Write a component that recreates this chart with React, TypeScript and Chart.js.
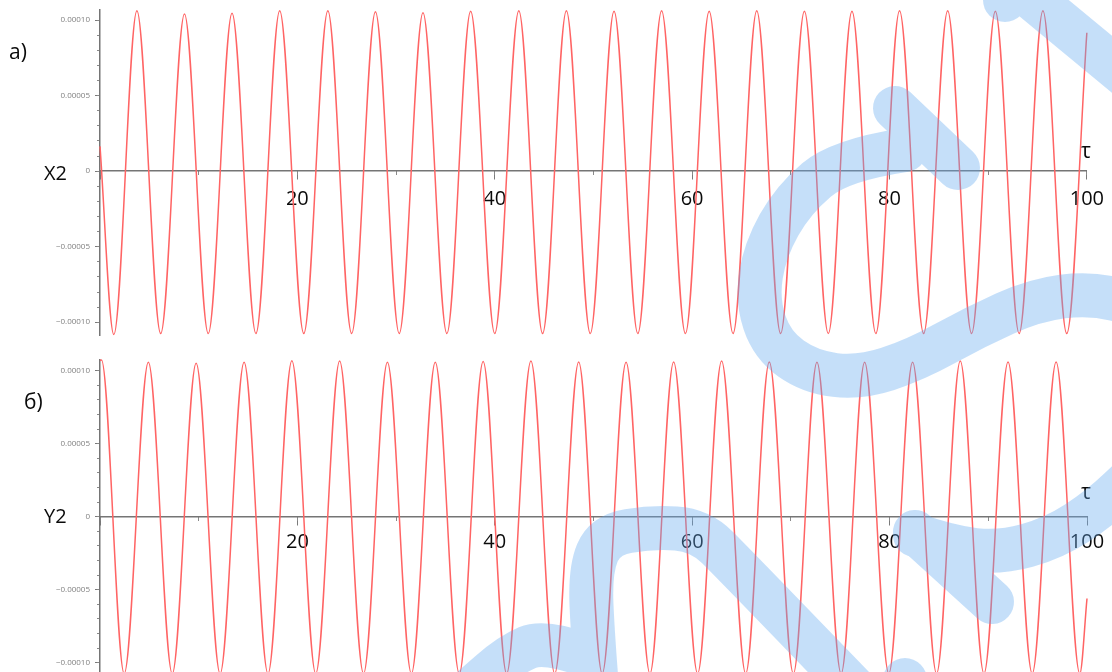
import React, { useEffect, useRef } from "react";
import { Chart, registerables } from "chart.js";

Chart.register(...registerables);

// ---------- Panel a) X2(τ) ----------
const x2Start = [0, 0.0000164];
const x2End = [100, 0.0000916];
const x2TroughTau = [1.4, 6.15, 10.97, 15.8, 20.65, 25.5, 30.32, 35.15, 40.0, 44.85, 49.68, 54.5, 59.32, 64.15, 68.97, 73.8, 78.62, 83.46, 88.32, 93.14, 97.96];
const x2TroughVal = [-1.082, -1.075, -1.075, -1.075, -1.075, -1.075, -1.075, -1.075, -1.075, -1.075, -1.075, -1.075, -1.075, -1.075, -1.075, -1.075, -1.075, -1.075, -1.075, -1.075, -1.075].map((v) => v * 1e-4);
const x2PeakTau = [3.74, 8.56, 13.38, 18.21, 23.09, 27.91, 32.73, 37.56, 42.44, 47.26, 52.09, 56.91, 61.73, 66.55, 71.38, 76.2, 81.02, 85.9, 90.73, 95.55];
const x2PeakVal = [1.062, 1.04, 1.045, 1.062, 1.062, 1.055, 1.048, 1.058, 1.062, 1.062, 1.058, 1.062, 1.058, 1.062, 1.058, 1.058, 1.062, 1.062, 1.058, 1.062].map((v) => v * 1e-4);
const x2Range = [-0.0001086, 0.0001067];

// ---------- Panel б) Y2(τ) ----------
const y2Start = [0, 0.000107];
const y2End = [100, -0.000056];
const y2PeakTau = [0.15, 4.9, 9.74, 14.6, 19.44, 24.28, 29.12, 33.97, 38.82, 43.66, 48.5, 53.3, 58.12, 62.98, 67.81, 72.64, 77.47, 82.33, 87.16, 92.0, 96.87];
const y2PeakVal = [1.073, 1.057, 1.05, 1.057, 1.068, 1.066, 1.057, 1.057, 1.062, 1.066, 1.06, 1.057, 1.06, 1.066, 1.06, 1.057, 1.057, 1.057, 1.066, 1.06, 1.06].map((v) => v * 1e-4);
const y2TroughTau = [2.45, 7.32, 12.17, 17.02, 21.86, 26.7, 31.55, 36.4, 41.2, 46.07, 50.88, 55.72, 60.55, 65.42, 70.25, 75.09, 79.92, 84.76, 89.56, 94.45, 99.27];
const y2TroughVal = [-1.075, -1.075, -1.075, -1.075, -1.075, -1.075, -1.075, -1.075, -1.075, -1.075, -1.075, -1.075, -1.075, -1.075, -1.075, -1.075, -1.075, -1.075, -1.075, -1.075, -1.075].map((v) => v * 1e-4);
const y2Range = [-0.00011, 0.0001075];

// ---------- Axis ticks ----------
const xMajorStep = 20;
const xMinorStep = 10;
const yMajorStep = 0.00005;
const yMinorStep = 0.00001;

function buildPoints(start: number[], end: number[], pt: number[], pv: number[], tt: number[], tv: number[]) {
  const pts: { x: number; y: number }[] = [{ x: start[0], y: start[1] }];
  pt.forEach((t, i) => pts.push({ x: t, y: pv[i] }));
  tt.forEach((t, i) => pts.push({ x: t, y: tv[i] }));
  pts.push({ x: end[0], y: end[1] });
  pts.sort((a, b) => a.x - b.x);
  return pts;
}

const fmtY = (v: number) => {
  const n = Math.round(v * 1e5);
  if (n === 0) return "0";
  const s = "0.000" + String(Math.abs(n)).padStart(2, "0");
  return (n < 0 ? "\u2212" : "") + s;
};

const FONT = '"Open Sans", "DejaVu Sans", sans-serif';
const Y_BOX = 60;

function makeChart(canvas: HTMLCanvasElement, pts: any[], range: number[], pad: any, labelPad: number) {
  return new Chart(canvas, {
    type: "line",
    data: {
      datasets: [
        {
          data: pts,
          borderColor: "#ff6464",
          borderWidth: 1.5,
          pointRadius: 0,
          cubicInterpolationMode: "monotone",
          fill: false,
          clip: false,
          xAxisID: "x",
          yAxisID: "y",
        } as any,
      ],
    },
    options: {
      responsive: false,
      animation: false,
      events: [],
      layout: { padding: pad },
      plugins: { legend: { display: false }, tooltip: { enabled: false } },
      scales: {
        x: {
          type: "linear",
          axis: "x",
          min: 0,
          max: 100,
          position: { y: 0 } as any,
          grid: { display: true, drawOnChartArea: false, drawTicks: true, tickLength: 8, tickColor: "#7a7a7a", lineWidth: 1 },
          border: { display: true, color: "#757575", width: 1.5 },
          ticks: {
            stepSize: xMajorStep,
            autoSkip: false,
            includeBounds: false,
            maxRotation: 0,
            padding: labelPad,
            color: "#0a0a0a",
            font: { family: FONT, size: 20 },
            callback: (v: any) => (Number(v) === 0 ? "" : String(v)),
          },
        } as any,
        x2: {
          type: "linear",
          axis: "x",
          min: 0,
          max: 100,
          position: { y: 0 } as any,
          grid: { display: true, drawOnChartArea: false, drawTicks: true, tickLength: 4, tickColor: "#8a8a8a", lineWidth: 1 },
          border: { display: false },
          ticks: { display: false, stepSize: xMinorStep, autoSkip: false, includeBounds: false },
        } as any,
        y: {
          type: "linear",
          axis: "y",
          position: "left",
          min: range[0],
          max: range[1],
          afterFit: (s: any) => {
            s.width = Y_BOX;
          },
          grid: { display: true, drawOnChartArea: false, drawTicks: true, tickLength: 5, tickColor: "#7a7a7a", lineWidth: 1 },
          border: { display: true, color: "#757575", width: 1.5 },
          ticks: {
            stepSize: yMajorStep,
            autoSkip: false,
            includeBounds: false,
            maxTicksLimit: 1000,
            padding: 5,
            color: "#808080",
            font: { family: FONT, size: 8 },
            callback: (v: any) => fmtY(Number(v)),
          },
        } as any,
        y2: {
          type: "linear",
          axis: "y",
          position: { x: 0 } as any,
          min: range[0],
          max: range[1],
          grid: { display: true, drawOnChartArea: false, drawTicks: true, tickLength: 3, tickColor: "#8a8a8a", lineWidth: 1 },
          border: { display: false },
          ticks: { display: false, stepSize: yMinorStep, autoSkip: false, includeBounds: false, maxTicksLimit: 1000 },
        } as any,
      },
    },
  } as any);
}

function smoothPath(ctx: CanvasRenderingContext2D, pts: number[][]) {
  ctx.beginPath();
  ctx.moveTo(pts[0][0], pts[0][1]);
  for (let i = 1; i < pts.length - 1; i++) {
    const mx = (pts[i][0] + pts[i + 1][0]) / 2;
    const my = (pts[i][1] + pts[i + 1][1]) / 2;
    ctx.quadraticCurveTo(pts[i][0], pts[i][1], mx, my);
  }
  const l = pts[pts.length - 1];
  ctx.lineTo(l[0], l[1]);
  ctx.stroke();
}

function drawWatermark(canvas: HTMLCanvasElement) {
  const ctx = canvas.getContext("2d")!;
  ctx.clearRect(0, 0, canvas.width, canvas.height);
  ctx.strokeStyle = "rgb(100,170,240)";
  ctx.lineWidth = 44;
  ctx.lineCap = "round";
  ctx.lineJoin = "round";
  const strokes: number[][][] = [
    [[1010, -20], [1125, 75]],
    [[1005, -15], [1005, 0]],
    [[895, 108], [958, 168]],
    [[905, 150], [840, 160], [793, 200], [765, 250], [757, 300], [772, 345], [810, 372], [860, 378], [915, 360], [975, 327], [1035, 300], [1090, 293], [1140, 305]],
    [[915, 532], [992, 602]],
    [[915, 535], [950, 547], [1000, 553], [1054, 538], [1100, 508], [1140, 470]],
    [[598, 700], [593, 640], [590, 570], [605, 535], [652, 527], [700, 530], [735, 565], [880, 715]],
    [[585, 655], [545, 640], [510, 655], [470, 690]],
    [[905, 700], [905, 680]],
  ];
  strokes.forEach((s) => smoothPath(ctx, s));
}

const labelStyle = (left: number, top: number, size = 20): React.CSSProperties => ({
  position: "absolute",
  left,
  top,
  fontFamily: FONT,
  fontSize: size,
  lineHeight: "22px",
  color: "#0a0a0a",
  whiteSpace: "nowrap",
});

export default function App() {
  const aRef = useRef<HTMLCanvasElement>(null);
  const bRef = useRef<HTMLCanvasElement>(null);
  const wRef = useRef<HTMLCanvasElement>(null);

  useEffect(() => {
    const ca = makeChart(
      aRef.current!,
      buildPoints(x2Start, x2End, x2PeakTau, x2PeakVal, x2TroughTau, x2TroughVal),
      x2Range,
      { left: 100 - Y_BOX, right: 25, top: 10, bottom: 5 },
      8
    );
    const cb = makeChart(
      bRef.current!,
      buildPoints(y2Start, y2End, y2PeakTau, y2PeakVal, y2TroughTau, y2TroughVal),
      y2Range,
      { left: 100 - Y_BOX, right: 25, top: 14.7, bottom: 12.7 },
      5.5
    );
    drawWatermark(wRef.current!);
    return () => {
      ca.destroy();
      cb.destroy();
    };
  }, []);

  return (
    <div style={{ position: "fixed", left: 0, top: 0, width: 1112, height: 672, overflow: "hidden", background: "#fff" }}>
      <canvas ref={aRef} width={1112} height={345} style={{ position: "absolute", left: 0, top: 0 }} />
      <canvas ref={bRef} width={1112} height={345} style={{ position: "absolute", left: 0, top: 345 }} />
      <div style={labelStyle(9, 40, 21)}>a)</div>
      <div style={labelStyle(44, 161.5)}>X2</div>
      <div style={labelStyle(1081, 138.5, 21)}>τ</div>
      <div style={labelStyle(24, 389.5, 21)}>б)</div>
      <div style={labelStyle(44, 505)}>Y2</div>
      <div style={labelStyle(1081, 480, 21)}>τ</div>
      <canvas
        ref={wRef}
        width={1112}
        height={672}
        style={{ position: "absolute", left: 0, top: 0, opacity: 0.37, pointerEvents: "none" }}
      />
    </div>
  );
}
